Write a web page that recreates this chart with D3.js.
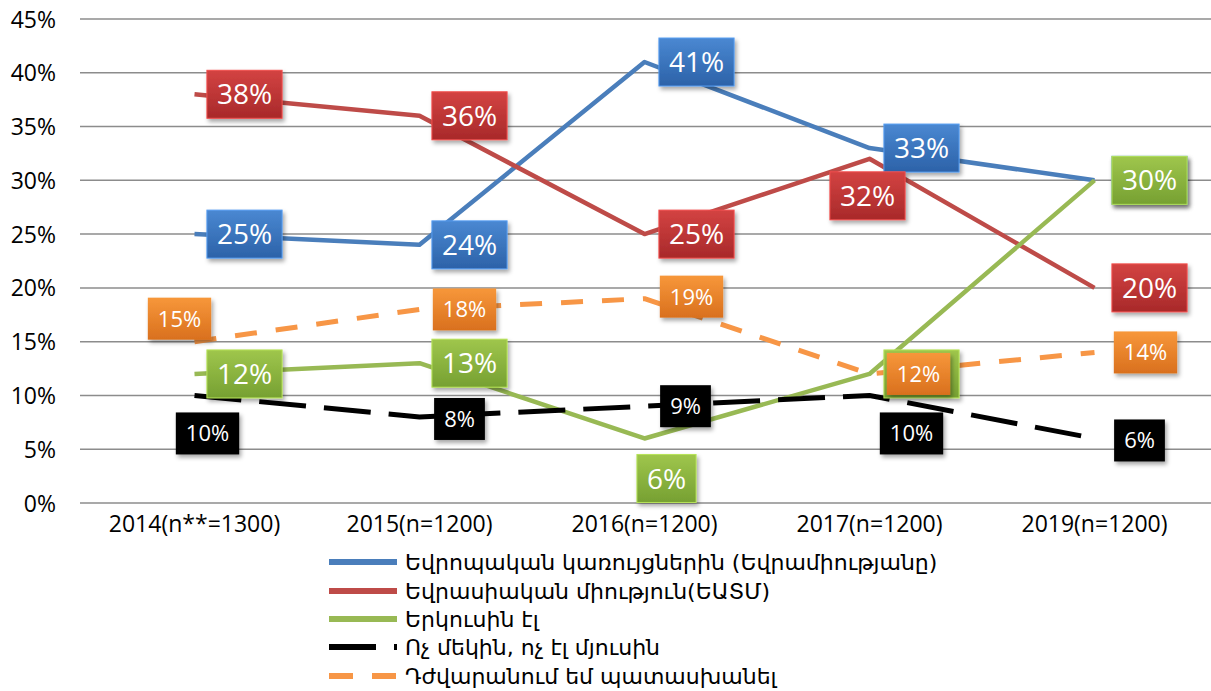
<!DOCTYPE html>
<html lang="hy">
<head>
    <meta charset="UTF-8">
    <title>Line chart</title>
    <style>
        body {
            margin: 0;
            background: #fff;
        }
        svg {
            display: block;
        }
        .tick-label {
            font-family: "Open Sans", "DejaVu Sans", sans-serif;
            font-size: 23px;
            fill: #000;
        }
        .legend-text {
            font-family: "DejaVu Sans", sans-serif;
            font-size: 22px;
            fill: #000;
        }
        .data-label {
            font-family: "Open Sans", "DejaVu Sans", sans-serif;
            fill: #fff;
        }
    </style>
</head>
<body>
    <svg width="1211" height="691"></svg>
    <script src="https://d3js.org/d3.v7.min.js"></script>
    <script>
        const categories = ["2014(n**=1300)", "2015(n=1200)", "2016(n=1200)", "2017(n=1200)", "2019(n=1200)"];
        const yTicks = [0, 5, 10, 15, 20, 25, 30, 35, 40, 45];

        const seriesNames = [
            "Եվրոպական կառույցներին (Եվրամիությանը)",
            "Եվրասիական միություն(ԵԱՏՄ)",
            "Երկուսին էլ",
            "Ոչ մեկին, ոչ էլ մյուսին",
            "Դժվարանում եմ պատասխանել"
        ];
        const europe = [25, 24, 41, 33, 30];
        const eurasia = [38, 36, 25, 32, 20];
        const both = [12, 13, 6, 12, 30];
        const neither = [10, 8, 9, 10, 6];
        const hardToSay = [15, 18, 19, 12, 14];

        // label offsets from the point, in px
        const europeLabelPos = [[50, 0], [50, 0], [52, 0], [52, 0], [55, 0]];
        const eurasiaLabelPos = [[50, 0], [50, 0], [52, 0], [-2, 37], [55, 0]];
        const bothLabelPos = [[50, 0], [50, 0], [22, 40], [52, 0], [55, 0]];
        const neitherLabelPos = [[13, 38], [40, 2], [41, 0], [42, 38], [45, 2]];
        const hardLabelPos = [[-15, -23], [45, 0], [47, -2], [49, 0], [51, 0]];

        const series = [
            {name: seriesNames[0], values: europe, labels: europeLabelPos, color: "#4a7ebb", box: ["#4a88d2", "#2c62a8"], dash: null, big: true},
            {name: seriesNames[1], values: eurasia, labels: eurasiaLabelPos, color: "#be4b48", box: ["#d34342", "#a8292a"], dash: null, big: true},
            {name: seriesNames[2], values: both, labels: bothLabelPos, color: "#98b954", box: ["#9fc64c", "#76a032"], dash: null, big: true},
            {name: seriesNames[3], values: neither, labels: neitherLabelPos, color: "#000000", box: ["#000000", "#000000"], dash: "47,18", big: false},
            {name: seriesNames[4], values: hardToSay, labels: hardLabelPos, color: "#f79646", box: ["#f7973a", "#d9701e"], dash: "22,19", big: false}
        ];

        const svg = d3.select("svg");
        const plot = {left: 82, right: 1207, top: 19, bottom: 503};

        const x = d3.scaleBand().domain(categories).range([plot.left, plot.right]);
        const y = d3.scaleLinear().domain([0, 45]).range([plot.bottom, plot.top]);
        const cx = c => x(c) + x.bandwidth() / 2;

        const defs = svg.append("defs");
        const shadow = defs.append("filter").attr("id", "shadow")
            .attr("x", "-20%").attr("y", "-20%").attr("width", "150%").attr("height", "160%");
        shadow.append("feDropShadow")
            .attr("dx", 2).attr("dy", 3).attr("stdDeviation", 2)
            .attr("flood-color", "#000").attr("flood-opacity", 0.35);

        series.forEach((s, i) => {
            const grad = defs.append("linearGradient").attr("id", "grad" + i)
                .attr("x1", 0).attr("y1", 0).attr("x2", 0).attr("y2", 1);
            grad.append("stop").attr("offset", "0%").attr("stop-color", s.box[0]);
            grad.append("stop").attr("offset", "100%").attr("stop-color", s.box[1]);
        });

        // gridlines
        svg.append("g")
            .selectAll("line")
            .data(yTicks)
            .join("line")
            .attr("x1", 80)
            .attr("x2", 1211)
            .attr("y1", d => y(d))
            .attr("y2", d => y(d))
            .attr("stroke", "#8c8c8c")
            .attr("stroke-width", 1.5);

        // y axis labels
        const yAxis = d3.axisLeft(y).tickValues(yTicks).tickFormat(d => d + "%").tickSize(0).tickPadding(0);
        svg.append("g")
            .attr("transform", "translate(56,0)")
            .call(yAxis)
            .call(g => g.select(".domain").remove())
            .call(g => g.selectAll("text").attr("class", "tick-label").attr("dy", "0.35em")
                .attr("font-size", null).attr("font-family", null));

        // x axis labels
        const xAxis = d3.axisBottom(x).tickSize(0).tickPadding(0);
        svg.append("g")
            .attr("transform", "translate(0,524)")
            .call(xAxis)
            .call(g => g.select(".domain").remove())
            .call(g => g.selectAll("text").attr("class", "tick-label").attr("dy", "0.35em")
                .attr("font-size", null).attr("font-family", null));

        // lines
        const line = d3.line()
            .x((d, i) => cx(categories[i]))
            .y(d => y(d));

        svg.append("g")
            .selectAll("path")
            .data(series)
            .join("path")
            .attr("d", d => line(d.values))
            .attr("fill", "none")
            .attr("stroke", d => d.color)
            .attr("stroke-width", d => d.dash ? 5 : 4.5)
            .attr("stroke-dasharray", d => d.dash)
            .attr("stroke-linejoin", "round");

        // data labels
        const labelLayer = svg.append("g");
        series.forEach((s, si) => {
            const fontSize = s.big ? 28 : 22;
            const boxH = s.big ? 48 : 42;
            s.values.forEach((v, i) => {
                const px = cx(categories[i]) + s.labels[i][0];
                const py = y(v) + s.labels[i][1];
                const g = labelLayer.append("g").attr("transform", `translate(${px},${py})`);
                const rect = g.append("rect")
                    .attr("fill", `url(#grad${si})`)
                    .attr("stroke", s.big ? d3.color(s.box[0]).brighter(0.4) : "none")
                    .attr("stroke-width", 1)
                    .attr("filter", "url(#shadow)");
                const txt = g.append("text")
                    .attr("class", "data-label")
                    .attr("font-size", fontSize)
                    .attr("text-anchor", "middle")
                    .attr("dy", "0.36em")
                    .text(v + "%");
                const w = txt.node().getComputedTextLength() + 20;
                rect.attr("x", -w / 2).attr("y", -boxH / 2).attr("width", w).attr("height", boxH);
            });
        });

        // legend
        const legendRows = [562, 591, 619, 647, 676];
        const legend = svg.append("g")
            .selectAll("g")
            .data(series)
            .join("g")
            .attr("transform", (d, i) => `translate(0,${legendRows[i]})`);

        legend.append("line")
            .attr("x1", 329)
            .attr("x2", 397)
            .attr("stroke", d => d.color)
            .attr("stroke-width", 6)
            .attr("stroke-dasharray", (d, i) => i === 4 ? "24,19" : d.dash);

        legend.append("text")
            .attr("class", "legend-text")
            .attr("x", 405)
            .attr("dy", "0.35em")
            .text(d => d.name);
    </script>
</body>
</html>
